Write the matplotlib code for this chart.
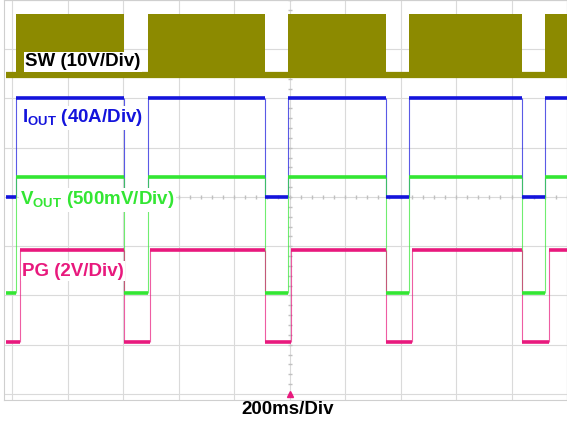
import numpy as np
import matplotlib.pyplot as plt
from matplotlib.patches import Rectangle

plt.rcParams['font.family'] = ['Liberation Sans', 'DejaVu Sans']
plt.rcParams['mathtext.fontset'] = 'custom'
plt.rcParams['mathtext.rm'] = 'Liberation Sans:bold'
plt.rcParams['mathtext.it'] = 'Liberation Sans:bold'
plt.rcParams['mathtext.bf'] = 'Liberation Sans:bold'

# time base: 200 ms/div, 10 divisions
t_start, t_end = -20, 2000
on_ms = [14, 490, 995, 1432, 1922]        # SW burst / IOUT / VOUT rising edges
off_ms = [404, 912, 1348, 1838]           # falling edges
pg_on_ms = [29, 497, 1005, 1441, 1935]    # PG rises a bit later

# trace levels, in screen divisions (0 = centre line)
sw_low, sw_high = 2.48, 3.72
iout_low, iout_high = 0.0, 2.0
vout_low, vout_high = -1.95, 0.40
pg_low, pg_high = -2.94, -1.07

c_sw = '#8c8a00'
c_iout = '#1414dc'
c_vout = '#33e633'
c_pg = '#e8197d'


def segments(on, off, low, high):
    edges = sorted([(t, high) for t in on] + [(t, low) for t in off])
    segs = []
    t_prev, lvl = t_start, low
    for t, new in edges:
        segs.append((t_prev, t, lvl))
        t_prev, lvl = t, new
    segs.append((t_prev, t_end, lvl))
    return segs


def draw_trace(ax, on, off, low, high, color):
    for t0, t1, lvl in segments(on, off, low, high):
        ax.hlines(lvl, t0, t1, color=color, lw=2.6, zorder=3)
    ax.vlines(on + off, low, high, color=color, lw=0.8, alpha=0.7, zorder=2)


W, H = 567, 421
fig = plt.figure(figsize=(W / 100, H / 100), dpi=100)
# axes from x=4px to 567px, y=0px to 400px
ax = fig.add_axes([4 / W, 1 - 400 / H, 563 / W, 400 / H])
ax.set_xlim(-8 / 55.5 * 200, 2000)
ax.set_ylim(-203 / 49.25, 4.0)

ax.set_xticks(np.arange(0, 2001, 200))
ax.set_yticks(np.arange(-4, 5, 1))
ax.grid(color='#dadada', lw=0.8)
ax.tick_params(length=0, labelbottom=False, labelleft=False)
for s in ax.spines.values():
    s.set_color('#cfcfcf')
    s.set_linewidth(0.8)
ax.set_axisbelow(True)

# minor marks on the centre lines
mx = np.arange(0, 2001, 40)
ax.plot(mx, np.zeros_like(mx), '|', color='#c0c0c0', ms=3, zorder=1)
my = np.arange(-4, 4.01, 0.2)
ax.plot(np.full_like(my, 1000), my, '_', color='#c0c0c0', ms=3, zorder=1)

# SW: switching bursts drawn as filled blocks on a thick baseline
ax.hlines(sw_low, t_start, t_end, color=c_sw, lw=4.5, zorder=3)
for t0, t1 in zip(on_ms, off_ms + [t_end]):
    ax.fill_between([t0, t1], sw_low, sw_high, color=c_sw, lw=0, zorder=3)

draw_trace(ax, on_ms, off_ms, iout_low, iout_high, c_iout)
draw_trace(ax, on_ms, off_ms, vout_low, vout_high, c_vout)
draw_trace(ax, pg_on_ms, off_ms, pg_low, pg_high, c_pg)

# trigger marker
ax.plot(1000, -4.0, marker='^', color=c_pg, ms=4, clip_on=False, zorder=4)


def label(x, y, s, color):
    fig.text(x / W, 1 - y / H, s, color=color, fontsize=13.5, fontweight='bold',
             ha='left', va='center', zorder=10,
             bbox=dict(facecolor='white', edgecolor='none', pad=1.0))


label(25, 62, 'SW (10V/Div)', 'black')
label(22, 118, 'I$_{OUT}$ (40A/Div)', c_iout)
label(20, 200, 'V$_{OUT}$ (500mV/Div)', c_vout)
label(22, 271, 'PG (2V/Div)', c_pg)

fig.text(288 / W, 1 - 410 / H, '200ms/Div', fontsize=13.5, fontweight='bold',
         ha='center', va='center')

fig.savefig('out.png', dpi=100)
